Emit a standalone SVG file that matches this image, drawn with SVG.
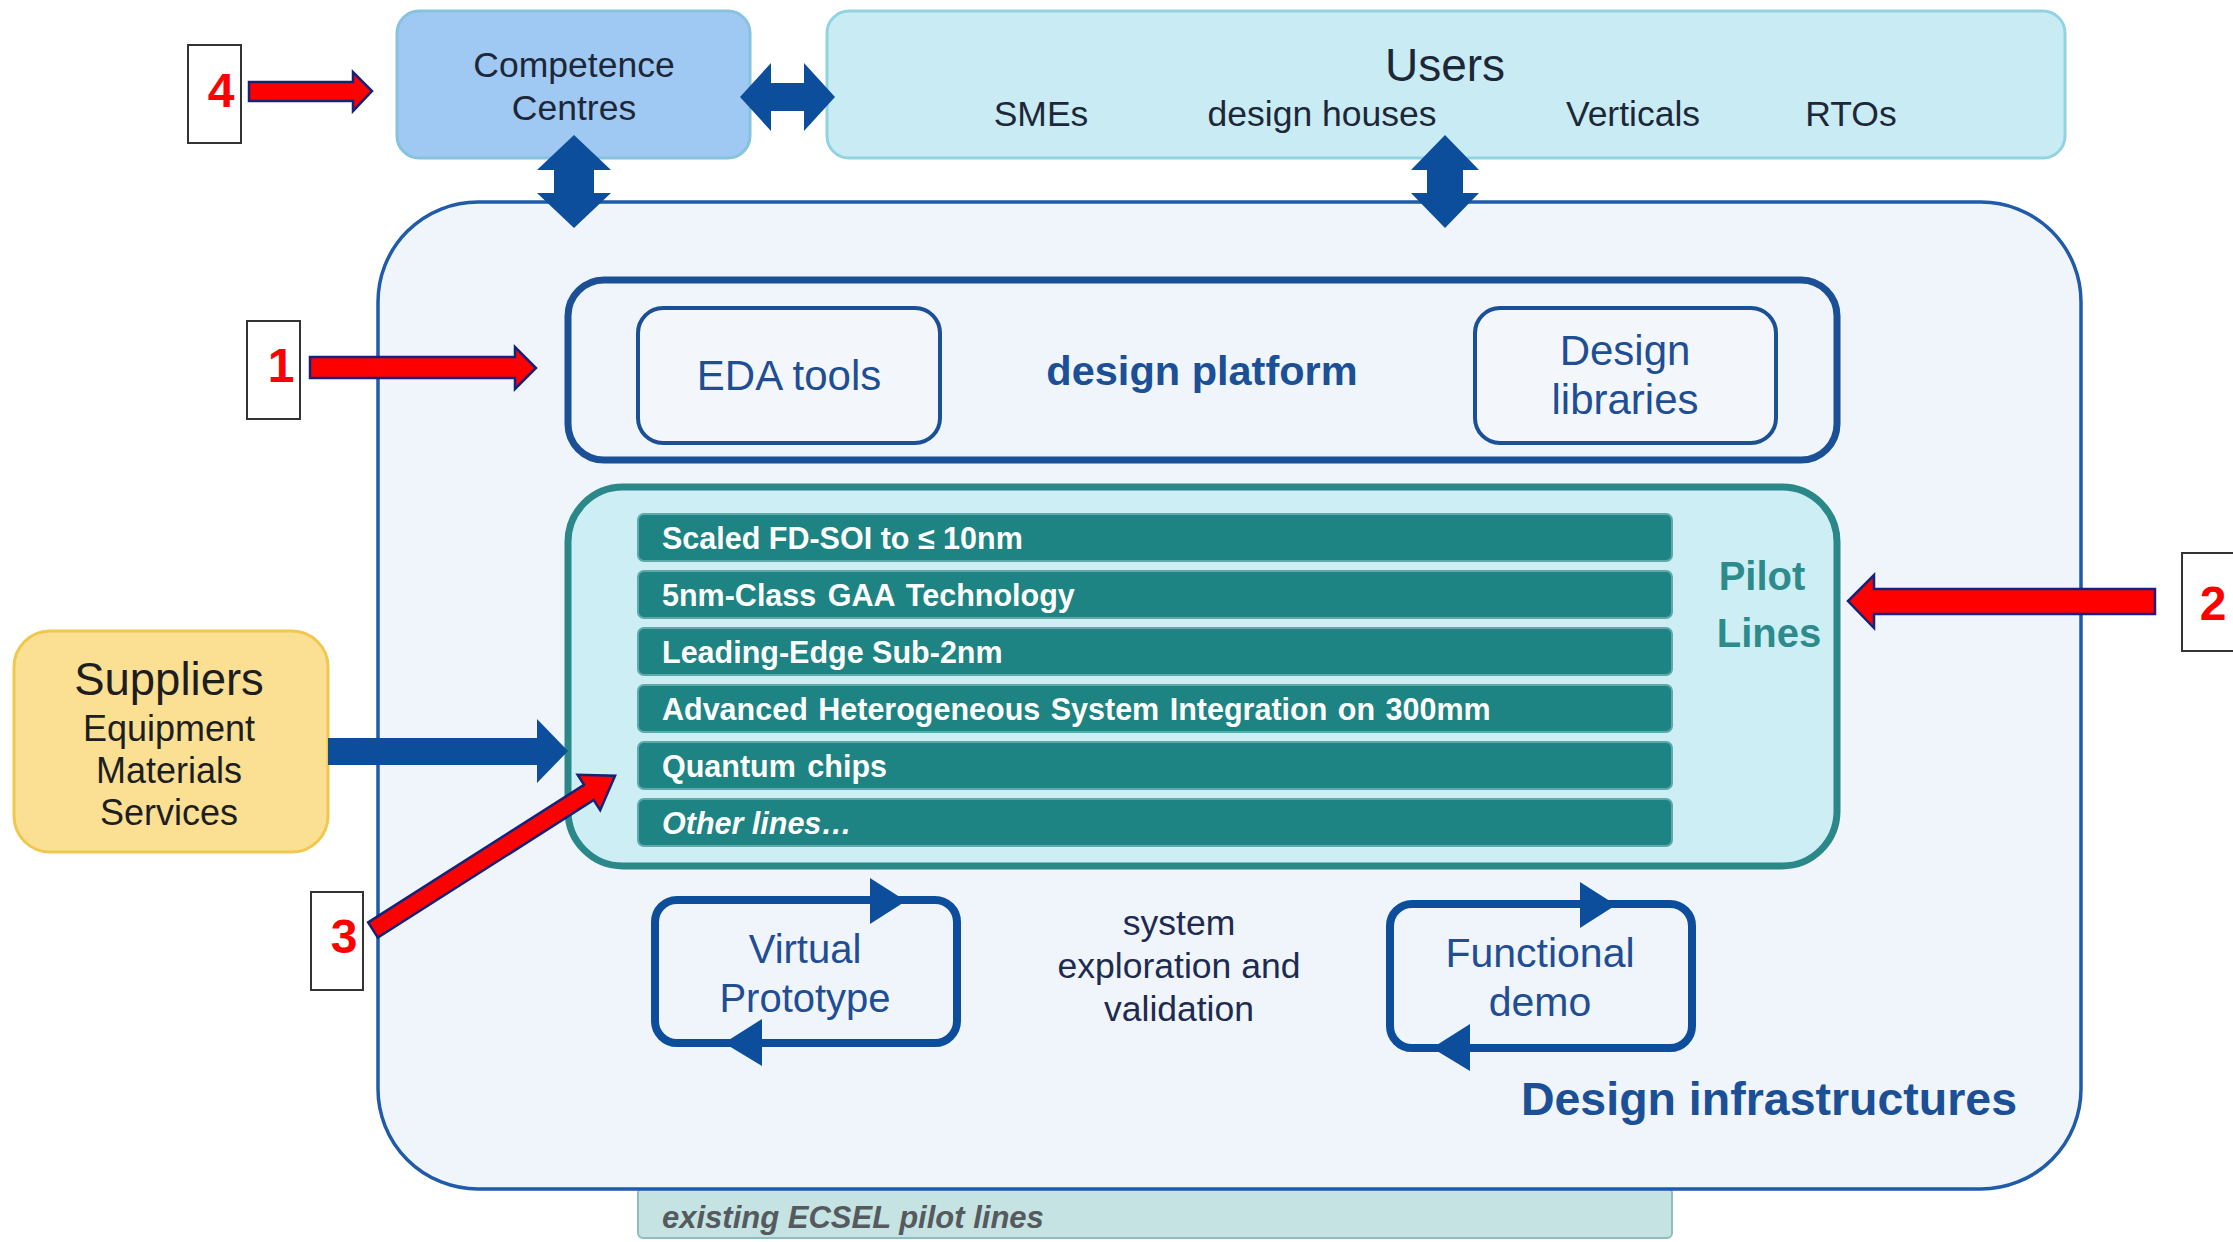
<svg xmlns="http://www.w3.org/2000/svg" width="2233" height="1242" viewBox="0 0 2233 1242">
<style>
text{font-family:"Liberation Sans",Arial,sans-serif}
.dark{fill:#1d2738}
.blue{fill:#1f4e94}
.bar{fill:#1e8383;stroke:#5fa9a9;stroke-width:2}
.bartxt{fill:#ffffff;font-weight:bold;font-size:30.5px}
.lbl{fill:#ffffff;stroke:#333333;stroke-width:2}
.num{fill:#ff0000;font-weight:bold;font-size:48px;text-anchor:middle}
.red{fill:#ff0000;stroke:#14237a;stroke-width:2.5;stroke-linejoin:miter}
.navy{fill:#0c4e9b}
.mid{text-anchor:middle}
</style>
<rect x="0" y="0" width="2233" height="1242" fill="#ffffff"/>

<g id="ecsel-bar">
<rect x="638" y="1188" width="1034" height="50" rx="5" fill="#c5e3e2" stroke="#8fbcbc" stroke-width="2"/>
<text x="662" y="1228" font-size="31" font-style="italic" font-weight="bold" fill="#555a5e">existing ECSEL pilot lines</text>
</g>

<g id="design-infrastructures">
<rect x="378" y="202" width="1703" height="987" rx="100" fill="#eff5fa" stroke="#1f5ba8" stroke-width="3.5"/>
<text x="1769" y="1115" class="mid" font-size="46.5" font-weight="bold" fill="#1b4f96">Design infrastructures</text>
</g>

<g id="competence-centres">
<rect x="397" y="11" width="353" height="147" rx="22" fill="#9fc8f2" stroke="#86c3dd" stroke-width="3"/>
<text x="574" y="77" class="mid dark" font-size="35.5">Competence</text>
<text x="574" y="120" class="mid dark" font-size="35.5">Centres</text>
</g>

<g id="users">
<rect x="827" y="11" width="1238" height="147" rx="22" fill="#c9ecf4" stroke="#92d3e2" stroke-width="3"/>
<text x="1445" y="81" class="mid dark" font-size="46">Users</text>
<text x="1041" y="126" class="mid dark" font-size="35.5">SMEs</text>
<text x="1322" y="126" class="mid dark" font-size="35.5">design houses</text>
<text x="1633" y="126" class="mid dark" font-size="35.5">Verticals</text>
<text x="1851" y="126" class="mid dark" font-size="35.5">RTOs</text>
</g>

<g id="design-platform">
<rect x="568" y="280" width="1269" height="180" rx="36" fill="none" stroke="#1b4f96" stroke-width="7"/>
<text x="1202" y="385" class="mid" font-size="41.5" font-weight="bold" fill="#1b4f96">design platform</text>
</g>
<g id="eda-tools">
<rect x="638" y="308" width="302" height="135" rx="25" fill="#f3f7fb" stroke="#1b4f96" stroke-width="4"/>
<text x="789" y="390" class="mid blue" font-size="42">EDA tools</text>
</g>
<g id="design-libraries">
<rect x="1475" y="308" width="301" height="135" rx="25" fill="#f3f7fb" stroke="#1b4f96" stroke-width="4"/>
<text x="1625" y="365" class="mid blue" font-size="42">Design</text>
<text x="1625" y="414" class="mid blue" font-size="42">libraries</text>
</g>

<g id="pilot-lines">
<rect x="568" y="487" width="1269" height="379" rx="55" fill="#cdeef4" stroke="#2b8888" stroke-width="7"/>
<text x="1762" y="590" class="mid" font-size="40" font-weight="bold" fill="#2e8b8b">Pilot</text>
<text x="1769" y="647" class="mid" font-size="40" font-weight="bold" fill="#2e8b8b">Lines</text>
<rect class="bar" x="638" y="514" width="1034" height="47" rx="6"/>
<text class="bartxt" x="662" y="549">Scaled FD-SOI to ≤ 10nm</text>
<rect class="bar" x="638" y="571" width="1034" height="47" rx="6"/>
<text class="bartxt" x="662" y="606" word-spacing="3">5nm-Class GAA Technology</text>
<rect class="bar" x="638" y="628" width="1034" height="47" rx="6"/>
<text class="bartxt" x="662" y="663">Leading-Edge Sub-2nm</text>
<rect class="bar" x="638" y="685" width="1034" height="47" rx="6"/>
<text class="bartxt" x="662" y="720" word-spacing="2">Advanced Heterogeneous System Integration on 300mm</text>
<rect class="bar" x="638" y="742" width="1034" height="47" rx="6"/>
<text class="bartxt" x="662" y="777" word-spacing="3">Quantum chips</text>
<rect class="bar" x="638" y="799" width="1034" height="47" rx="6"/>
<text class="bartxt" x="662" y="834" font-style="italic">Other lines…</text>
</g>

<g id="suppliers">
<rect x="14" y="631" width="314" height="221" rx="36" fill="#fbdf92" stroke="#f0c84e" stroke-width="3"/>
<text x="169" y="695" class="mid" font-size="45.5" fill="#1e1e1e">Suppliers</text>
<text x="169" y="741" class="mid" font-size="36" fill="#1e1e1e">Equipment</text>
<text x="169" y="783" class="mid" font-size="36" fill="#1e1e1e">Materials</text>
<text x="169" y="825" class="mid" font-size="36" fill="#1e1e1e">Services</text>
</g>

<g id="virtual-prototype">
<rect x="655" y="900" width="302" height="143" rx="22" fill="none" stroke="#0c4e9b" stroke-width="8"/>
<polygon class="navy" points="870,878 906,901 870,924"/>
<polygon class="navy" points="762,1019 724,1043 762,1066"/>
<text x="805" y="963" class="mid blue" font-size="40">Virtual</text>
<text x="805" y="1012" class="mid blue" font-size="40">Prototype</text>
</g>

<g id="system-exploration">
<text x="1179" y="935" class="mid" font-size="35.5" fill="#1d2b50">system</text>
<text x="1179" y="978" class="mid" font-size="35.5" fill="#1d2b50">exploration and</text>
<text x="1179" y="1021" class="mid" font-size="35.5" fill="#1d2b50">validation</text>
</g>

<g id="functional-demo">
<rect x="1390" y="904" width="302" height="144" rx="22" fill="none" stroke="#0c4e9b" stroke-width="8"/>
<polygon class="navy" points="1580,882 1616,905 1580,928"/>
<polygon class="navy" points="1470,1024 1432,1048 1470,1071"/>
<text x="1540" y="967" class="mid blue" font-size="41">Functional</text>
<text x="1540" y="1016" class="mid blue" font-size="41">demo</text>
</g>

<g id="label-1"><rect class="lbl" x="247" y="321" width="53" height="98"/><text class="num" x="281" y="382">1</text></g>
<g id="label-2"><rect class="lbl" x="2182" y="553" width="60" height="98"/><text class="num" x="2213" y="620">2</text></g>
<g id="label-3"><rect class="lbl" x="311" y="892" width="52" height="98"/><text class="num" x="344" y="953">3</text></g>
<g id="label-4"><rect class="lbl" x="188" y="45" width="53" height="98"/><text class="num" x="221" y="107">4</text></g>

<g id="connectors">
<polygon class="navy" points="740,97 771,63 771,83 804,83 804,63 835,97 804,131 804,111 771,111 771,131"/>
<polygon class="navy" points="574,135 611,170 594,170 594,193 611,193 574,228 537,193 554,193 554,170 537,170"/>
<polygon class="navy" points="1445,135 1479,170 1463,170 1463,193 1479,193 1445,228 1411,193 1427,193 1427,170 1411,170"/>
<polygon class="navy" points="328,738 537,738 537,719 568,751 537,783 537,765 328,765"/>
<polygon class="red" points="249,82 353,82 353,72 372,91 353,111 353,101 249,101"/>
<polygon class="red" points="310,357 515,357 515,347 536,368 515,389 515,378 310,378"/>
<polygon class="red" points="2155,589 1874,589 1874,575 1848,601 1874,628 1874,614 2155,614"/>
<polygon class="red" transform="translate(373,930) rotate(-32.5)" points="0,-9 256,-9 256,-21 287,0 256,21 256,9 0,9"/>
</g>
</svg>
